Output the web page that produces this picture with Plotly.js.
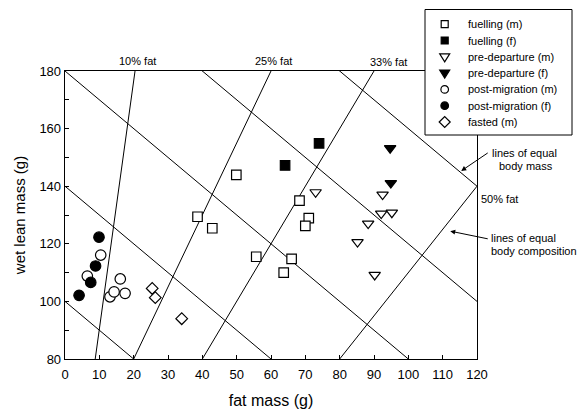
<!DOCTYPE html>
<html>
<head>
<meta charset="utf-8">
<script src="https://cdn.plot.ly/plotly-3.0.1.min.js"></script>
<style>html,body{margin:0;padding:0;background:#fff;}#chart{width:579px;height:412px;}</style>
</head>
<body>
<div id="chart"></div>
<script>
// ---- data ----
var fuellingM_fat  = [49.9, 38.6, 42.9, 55.7, 63.7, 66.0, 68.3, 71.0, 70.0];
var fuellingM_lean = [143.9, 129.4, 125.4, 115.5, 110.0, 114.8, 135.0, 128.9, 126.2];
var fuellingF_fat  = [64.1, 74.0];
var fuellingF_lean = [147.2, 154.9];
var predepM_fat  = [73.0, 92.5, 92.1, 95.2, 88.3, 85.2, 90.2];
var predepM_lean = [137.9, 137.1, 130.5, 130.8, 127.0, 120.6, 109.2];
var predepF_fat  = [94.9, 94.7];
var predepF_lean = [141.1, 153.2];
var postM_fat  = [6.5, 10.4, 13.1, 14.3, 16.1, 17.5];
var postM_lean = [108.8, 116.1, 101.6, 103.3, 107.8, 102.8];
var postF_fat  = [4.1, 7.5, 8.9, 9.9];
var postF_lean = [102.1, 106.6, 112.3, 122.3];
var fastedM_fat  = [25.4, 26.3, 34.0];
var fastedM_lean = [104.5, 101.3, 94.0];

// lines of equal body mass (fat + lean = M)
var bodyMasses = [100, 140, 180, 220, 260];
// lines of equal body composition
var compLabels    = ["10% fat", "25% fat", "33% fat", "50% fat"];
var compFatStart  = [8.8, 20, 40, 80];
var compLeanStart = [80, 80, 80, 80];
var compFatEnd    = [20.4, 60, 90, 120];
var compLeanEnd   = [180, 180, 180, 140];

var seriesNames = ["fuelling (m)", "fuelling (f)", "pre-departure (m)", "pre-departure (f)",
                   "post-migration (m)", "post-migration (f)", "fasted (m)"];
var xTickVals = [0, 10, 20, 30, 40, 50, 60, 70, 80, 90, 100, 110, 120];
var yTickVals = [80, 100, 120, 140, 160, 180];

// ---- geometry helpers (plot area in pixels) ----
var M_L = 65, M_R = 102, M_T = 71, M_B = 53, W = 579, H = 412;
var PW = W - M_L - M_R, PH = H - M_T - M_B;
function xp(px) { return (px - M_L) / PW; }
function yp(py) { return (H - M_B - py) / PH; }

var traces = [];
bodyMasses.forEach(function (M) {
  traces.push({x: [0, M], y: [M, 0], mode: 'lines', line: {color: '#000', width: 1},
               showlegend: false, hoverinfo: 'skip'});
});
for (var i = 0; i < compFatStart.length; i++) {
  traces.push({x: [compFatStart[i], compFatEnd[i]], y: [compLeanStart[i], compLeanEnd[i]],
               mode: 'lines', line: {color: '#000', width: 1}, showlegend: false, hoverinfo: 'skip'});
}

function pts(name, xs, ys, symbol, size, filled) {
  return {x: xs, y: ys, name: name, mode: 'markers', type: 'scatter', showlegend: false,
          marker: {symbol: symbol, size: size, color: filled ? '#000' : '#fff',
                   line: {color: '#000', width: 1.2}}};
}
traces.push(pts(seriesNames[0], fuellingM_fat, fuellingM_lean, 'square', 9.5, false));
traces.push(pts(seriesNames[1], fuellingF_fat, fuellingF_lean, 'square', 9.5, true));
traces.push(pts(seriesNames[2], predepM_fat, predepM_lean, 'triangle-down', 10, false));
traces.push(pts(seriesNames[3], predepF_fat, predepF_lean, 'triangle-down', 10, true));
traces.push(pts(seriesNames[4], postM_fat, postM_lean, 'circle', 10.5, false));
traces.push(pts(seriesNames[5], postF_fat, postF_lean, 'circle', 10.5, true));
traces.push(pts(seriesNames[6], fastedM_fat, fastedM_lean, 'diamond', 9, false));

var fontFam = 'Liberation Sans, Arial, sans-serif';
var annFont = {family: fontFam, size: 11, color: '#000'};
function note(text, xref, x, yref, y, xanchor) {
  return {text: text, xref: xref, yref: yref, x: x, y: y, xanchor: xanchor || 'center',
          yanchor: 'middle', showarrow: false, font: annFont};
}
var annotations = [
  note(compLabels[0], 'x', 21, 'paper', yp(61)),
  note(compLabels[1], 'x', 60.6, 'paper', yp(61)),
  note(compLabels[2], 'x', 94.2, 'paper', yp(62)),
  note(compLabels[3], 'paper', xp(479), 'y', 135.6, 'left'),
  note('lines of equal', 'paper', xp(524), 'y', 151.5),
  note('body mass', 'paper', xp(525.5), 'y', 147.1),
  note('lines of equal', 'paper', xp(489), 'y', 122.1, 'left'),
  note('body composition', 'paper', xp(489), 'y', 117.6, 'left'),
  {text: '', xref: 'x', yref: 'y', x: 115.4, y: 145.3, ax: 28, ay: -19, showarrow: true,
   arrowhead: 2, arrowsize: 1, arrowwidth: 1, arrowcolor: '#000', standoff: 0},
  {text: '', xref: 'x', yref: 'y', x: 112.2, y: 124.4, ax: 39, ay: 8, showarrow: true,
   arrowhead: 2, arrowsize: 1, arrowwidth: 1, arrowcolor: '#000', standoff: 0}
];

// ---- legend (box, keys, labels) ----
var shapes = [{type: 'rect', xref: 'paper', yref: 'paper', x0: xp(425), x1: xp(572),
               y0: yp(135), y1: yp(9.5), fillcolor: '#fff', line: {color: '#000', width: 1}, layer: 'above'}];
var legendKeys = [
  {kind: 'rect', fill: false, path: null, r: 3.5},
  {kind: 'rect', fill: true, path: null, r: 3.5},
  {kind: 'path', fill: false, path: 'M-5,3 L5,3 L0,-5 Z'},
  {kind: 'path', fill: true, path: 'M-5,3 L5,3 L0,-5 Z'},
  {kind: 'circle', fill: false, r: 3.8},
  {kind: 'circle', fill: true, r: 3.8},
  {kind: 'path', fill: false, path: 'M-5.5,0 L0,5.5 L5.5,0 L0,-5.5 Z'}
];
var legSymX = 444.7, legTextX = 465.5, legY0 = 24.2, legDY = 16.3;
seriesNames.forEach(function (name, k) {
  var key = legendKeys[k];
  var cy = legY0 + k * legDY;
  var s = {type: key.kind, xref: 'paper', yref: 'paper', xsizemode: 'pixel', ysizemode: 'pixel',
           xanchor: xp(legSymX), yanchor: yp(cy), layer: 'above',
           fillcolor: key.fill ? '#000' : '#fff', line: {color: '#000', width: 1.2}};
  if (key.kind === 'path') { s.path = key.path; }
  else { s.x0 = -key.r; s.x1 = key.r; s.y0 = -key.r; s.y1 = key.r; }
  shapes.push(s);
  annotations.push(note(name, 'paper', xp(legTextX), 'paper', yp(cy), 'left'));
});

var layout = {
  width: W, height: H,
  margin: {l: M_L, r: M_R, t: M_T, b: M_B},
  paper_bgcolor: '#fff', plot_bgcolor: '#fff',
  font: {family: fontFam, color: '#000', size: 12},
  showlegend: false,
  xaxis: {range: [0, 120], tickvals: xTickVals, ticks: 'inside', ticklen: 4, tickwidth: 1,
          tickcolor: '#000', showline: true, linecolor: '#000', linewidth: 1.3, mirror: true,
          showgrid: false, zeroline: false, tickfont: {size: 13, family: fontFam}, ticklabelstandoff: 3,
          title: {text: 'fat mass (g)', font: {size: 16, family: fontFam}, standoff: 14}},
  yaxis: {range: [80, 180], tickvals: yTickVals, ticks: 'inside', ticklen: 4, tickwidth: 1,
          tickcolor: '#000', showline: true, linecolor: '#000', linewidth: 1.3, mirror: true,
          showgrid: false, zeroline: false, tickfont: {size: 13, family: fontFam},
          minor: {dtick: 10, tick0: 80, ticks: 'inside', ticklen: 4, tickcolor: '#000', showgrid: false},
          title: {text: 'wet lean mass (g)', font: {size: 15, family: fontFam}, standoff: 10}},
  annotations: annotations,
  shapes: shapes
};

Plotly.newPlot('chart', traces, layout, {staticPlot: true, displayModeBar: false});
</script>
</body>
</html>
